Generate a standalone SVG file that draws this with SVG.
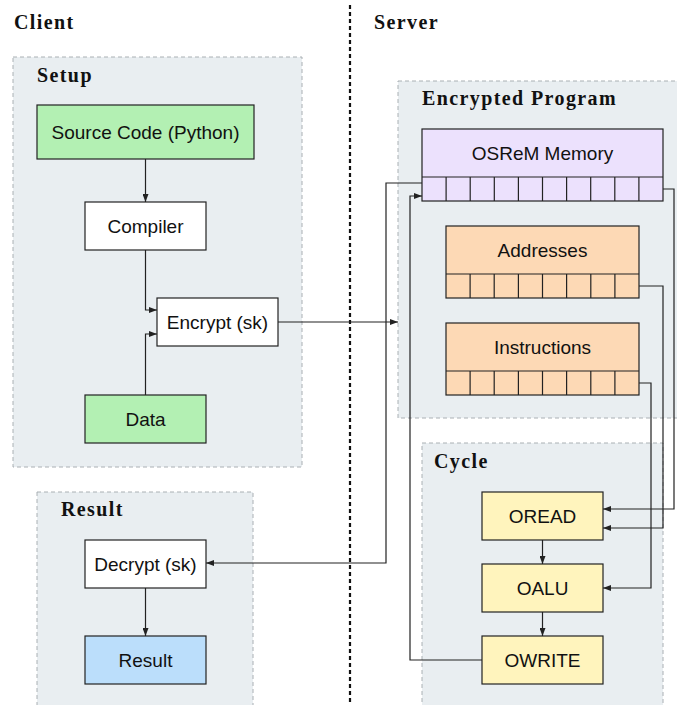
<svg xmlns="http://www.w3.org/2000/svg" width="677" height="705" viewBox="0 0 677 705">
  <style>
    .panel { fill: #e9eef1; stroke: #aab0b4; stroke-width: 1; stroke-dasharray: 4 3; }
    .title { font-family: "Liberation Serif", "DejaVu Serif", serif; font-weight: bold; font-size: 20px; letter-spacing: 1.4px; fill: #111; }
    .box { stroke: #222; stroke-width: 1.2; }
    .lbl { font-family: "Liberation Sans", "DejaVu Sans", sans-serif; font-size: 19px; fill: #111; text-anchor: middle; dominant-baseline: central; }
    .wire { fill: none; stroke: #222; stroke-width: 1.2; }
    .green { fill: #b3f0b3; }
    .white { fill: #ffffff; }
    .lav { fill: #ece1fd; }
    .peach { fill: #fdd9b5; }
    .yellow { fill: #fff4bd; }
    .blue { fill: #bbdefb; }
  </style>
  <defs>
    <marker id="arr" viewBox="0 0 8 6" refX="8" refY="3" markerWidth="8" markerHeight="6" markerUnits="userSpaceOnUse" orient="auto">
      <path d="M0,0 L8,3 L0,6 Z" fill="#222"/>
    </marker>
  </defs>

  <rect width="677" height="705" fill="#ffffff"/>

  <!-- column headers and separator -->
  <text class="title" x="14" y="29">Client</text>
  <text class="title" x="374" y="29">Server</text>
  <line x1="350" y1="5" x2="350" y2="705" stroke="#111" stroke-width="2.2" stroke-dasharray="4 3"/>

  <!-- panels -->
  <g id="setup-panel">
    <rect class="panel" x="13" y="57" width="289" height="410"/>
    <text class="title" x="37" y="82">Setup</text>
  </g>
  <g id="result-panel">
    <rect class="panel" x="37" y="492" width="216" height="220"/>
    <text class="title" x="61" y="516">Result</text>
  </g>
  <g id="program-panel">
    <rect class="panel" x="398" y="81" width="290" height="337"/>
    <text class="title" x="422" y="105">Encrypted Program</text>
  </g>
  <g id="cycle-panel">
    <rect class="panel" x="422" y="443" width="241" height="270"/>
    <text class="title" x="434" y="468">Cycle</text>
  </g>

  <!-- client nodes -->
  <g id="source">
    <rect class="box green" x="37" y="105" width="217" height="54"/>
    <text class="lbl" x="145.5" y="132">Source Code (Python)</text>
  </g>
  <g id="compiler">
    <rect class="box white" x="85" y="202" width="121" height="48"/>
    <text class="lbl" x="145.5" y="226">Compiler</text>
  </g>
  <g id="encrypt">
    <rect class="box white" x="157" y="298" width="121" height="48"/>
    <text class="lbl" x="217.5" y="322">Encrypt (sk)</text>
  </g>
  <g id="data">
    <rect class="box green" x="85" y="395" width="121" height="48"/>
    <text class="lbl" x="145.5" y="419">Data</text>
  </g>
  <g id="decrypt">
    <rect class="box white" x="85" y="540" width="121" height="48"/>
    <text class="lbl" x="145.5" y="564">Decrypt (sk)</text>
  </g>
  <g id="result">
    <rect class="box blue" x="85" y="636" width="121" height="48"/>
    <text class="lbl" x="145.5" y="660">Result</text>
  </g>

  <!-- encrypted program nodes -->
  <g id="memory">
    <rect class="box lav" x="422" y="129" width="241" height="72"/>
    <line class="wire" x1="422" y1="177" x2="663" y2="177"/>
    <path class="wire" d="M446.1,177V201 M470.2,177V201 M494.3,177V201 M518.4,177V201 M542.5,177V201 M566.6,177V201 M590.7,177V201 M614.8,177V201 M638.9,177V201"/>
    <text class="lbl" x="542.5" y="153">OSReM Memory</text>
  </g>
  <g id="addresses">
    <rect class="box peach" x="446" y="226" width="193" height="72"/>
    <line class="wire" x1="446" y1="274" x2="639" y2="274"/>
    <path class="wire" d="M470.1,274V298 M494.2,274V298 M518.4,274V298 M542.5,274V298 M566.6,274V298 M590.8,274V298 M614.9,274V298"/>
    <text class="lbl" x="542.5" y="250">Addresses</text>
  </g>
  <g id="instructions">
    <rect class="box peach" x="446" y="323" width="193" height="72"/>
    <line class="wire" x1="446" y1="371" x2="639" y2="371"/>
    <path class="wire" d="M470.1,371V395 M494.2,371V395 M518.4,371V395 M542.5,371V395 M566.6,371V395 M590.8,371V395 M614.9,371V395"/>
    <text class="lbl" x="542.5" y="347">Instructions</text>
  </g>

  <!-- cycle nodes -->
  <g id="oread">
    <rect class="box yellow" x="482" y="492" width="121" height="48"/>
    <text class="lbl" x="542.5" y="516">OREAD</text>
  </g>
  <g id="oalu">
    <rect class="box yellow" x="482" y="564" width="121" height="48"/>
    <text class="lbl" x="542.5" y="588">OALU</text>
  </g>
  <g id="owrite">
    <rect class="box yellow" x="482" y="636" width="121" height="48"/>
    <text class="lbl" x="542.5" y="660">OWRITE</text>
  </g>

  <!-- connectors -->
  <g id="connectors">
    <path class="wire" d="M145.5,159 V202" marker-end="url(#arr)"/>
    <path class="wire" d="M145.5,250 V310 H157" marker-end="url(#arr)"/>
    <path class="wire" d="M145.5,395 V334 H157" marker-end="url(#arr)"/>
    <path class="wire" d="M278,322 H398" marker-end="url(#arr)"/>
    <path class="wire" d="M422,183 H386 V563 H206" marker-end="url(#arr)"/>
    <path class="wire" d="M145.5,588 V636" marker-end="url(#arr)"/>
    <path class="wire" d="M663,189 H674 V509 H603" marker-end="url(#arr)"/>
    <path class="wire" d="M639,286 H663 V528 H603" marker-end="url(#arr)"/>
    <path class="wire" d="M639,383 H651 V588 H603" marker-end="url(#arr)"/>
    <path class="wire" d="M542.5,540 V564" marker-end="url(#arr)"/>
    <path class="wire" d="M542.5,612 V636" marker-end="url(#arr)"/>
    <path class="wire" d="M482,660 H410 V196 H422" marker-end="url(#arr)"/>
  </g>
</svg>
